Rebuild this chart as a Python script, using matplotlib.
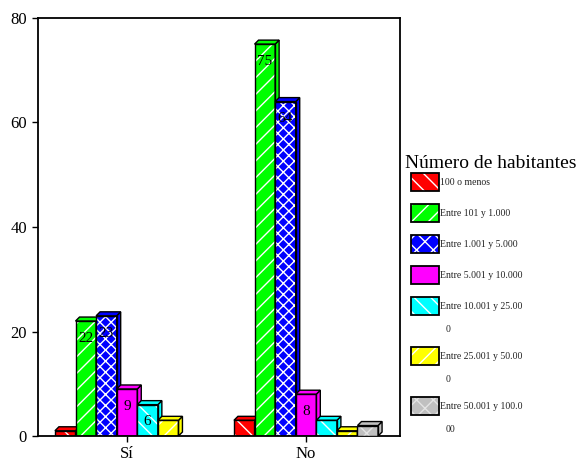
import matplotlib
matplotlib.use("Agg")
import matplotlib.pyplot as plt
import matplotlib.patches as patches
import numpy as np

plt.rcParams['font.family'] = ['Liberation Serif', 'DejaVu Serif']
plt.rcParams['hatch.linewidth'] = 1.0

# data
categories = ['Sí', 'No']
series_names = ['100 o menos', 'Entre 101 y 1.000', 'Entre 1.001 y 5.000',
                'Entre 5.001 y 10.000', 'Entre 10.001 y 25.00\n0',
                'Entre 25.001 y 50.00\n0', 'Entre 50.001 y 100.0\n00']
red_vals = [1, 3]
green_vals = [22, 75]
blue_vals = [23, 64]
magenta_vals = [9, 8]
cyan_vals = [6, 3]
yellow_vals = [3, 1]
gray_vals = [0, 2]
all_vals = [red_vals, green_vals, blue_vals, magenta_vals, cyan_vals, yellow_vals, gray_vals]

# styles
colors = ['#ff0000', '#00ff00', '#0000ff', '#ff00ff', '#00ffff', '#ffff00', '#c0c0c0']
hatches = ['\\\\', '//', 'xxx', '', '\\\\', '//', 'xx']
hatch_cols = ['white', 'white', 'white', 'white', 'white', 'white', '#e4e4e4']

W, H = 579, 461
fig = plt.figure(figsize=(W / 100, H / 100), dpi=100)
ax = fig.add_axes([38 / W, 25 / H, 362 / W, 418 / H])

x = np.arange(len(categories))
n = len(series_names)
w = 0.115
xmin, xmax = -0.497, 1.525
ymin, ymax = 0, 80
ax.set_xlim(xmin, xmax)
ax.set_ylim(ymin, ymax)

# 3D depth, 4 px in each direction
dx = 4 * (xmax - xmin) / 362
dy = 4 * (ymax - ymin) / 418

for i, vals in enumerate(all_vals):
    z = 2 + i * 0.1
    xs = x + (i - (n - 1) / 2) * w
    vals = np.array(vals, dtype=float)
    front = ax.bar(xs, vals, w, color=colors[i], edgecolor=hatch_cols[i],
                   linewidth=0, hatch=hatches[i], zorder=z)
    outline = ax.bar(xs, vals, w, facecolor='none', edgecolor='black', linewidth=1.0,
                     zorder=z + 0.02)
    for rect, edge, v in zip(front, outline, vals):
        if v <= 0:
            rect.set_visible(False)
            edge.set_visible(False)
            continue
        x0 = rect.get_x()
        x1 = x0 + rect.get_width()
        side = patches.Polygon([(x1, 0), (x1 + dx, dy), (x1 + dx, v + dy), (x1, v)],
                               closed=True, facecolor=colors[i],
                               edgecolor='black', linewidth=1.0, zorder=z + 0.01)
        top = patches.Polygon([(x0, v), (x0 + dx, v + dy), (x1 + dx, v + dy), (x1, v)],
                              closed=True, facecolor=colors[i],
                              edgecolor='black', linewidth=1.0, zorder=z + 0.01)
        ax.add_patch(side)
        ax.add_patch(top)
        if v >= 5:
            ax.text((x0 + x1) / 2, v - 3.3, f'{int(v)}', ha='center', va='center',
                    fontsize=11, color='black', zorder=10)

ax.set_xticks(x)
ax.set_xticklabels(categories, fontsize=12)
ax.set_yticks([0, 20, 40, 60, 80])
ax.tick_params(axis='both', labelsize=12, length=4, width=1, direction='out', color='black')
ax.tick_params(axis='y', pad=4)
ax.tick_params(axis='x', pad=3)
for s in ax.spines.values():
    s.set_linewidth(1.3)
    s.set_color('black')

# legend drawn in pixel space
lax = fig.add_axes([0, 0, 1, 1])
lax.set_xlim(0, W)
lax.set_ylim(H, 0)
lax.axis('off')
lax.patch.set_alpha(0)
lax.text(405, 163, 'Número de habitantes', fontsize=14, ha='left', va='center')
yc = 182
for i, name in enumerate(series_names):
    lax.add_patch(patches.Rectangle((411, yc - 9), 28, 18, facecolor=colors[i],
                                    edgecolor=hatch_cols[i], linewidth=0,
                                    hatch=hatches[i] if hatches[i] != 'xxx' else 'xx'))
    lax.add_patch(patches.Rectangle((411, yc - 9), 28, 18, facecolor='none',
                                    edgecolor='black', linewidth=1.3))
    lines = name.split('\n')
    lax.text(440, yc, lines[0], fontsize=7, ha='left', va='center', color='#222222')
    if len(lines) > 1:
        lax.text(446, yc + 23, lines[1], fontsize=7, ha='left', va='center', color='#222222')
        yc += 50
    else:
        yc += 31

fig.savefig('out.png', dpi=100, facecolor='white')
